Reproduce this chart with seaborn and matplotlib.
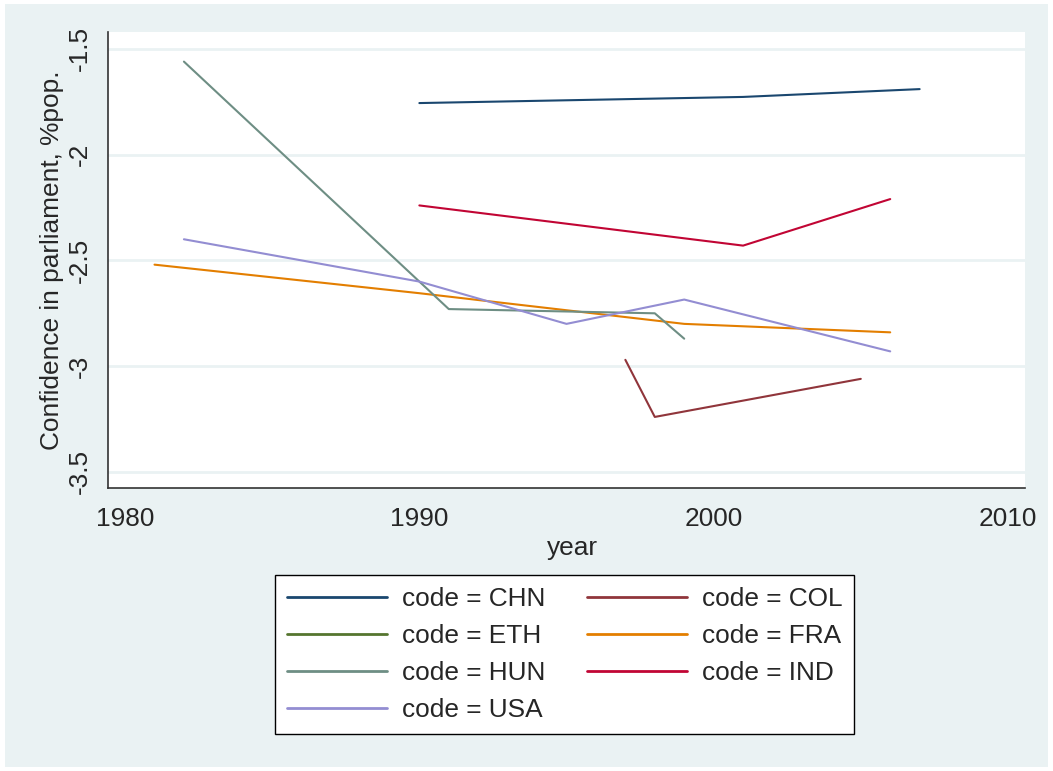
import pandas as pd
import numpy as np
import matplotlib
matplotlib.use("Agg")
import matplotlib.pyplot as plt
from matplotlib.lines import Line2D
from matplotlib.patches import Rectangle
import seaborn as sns

# values
chn_year = [1990, 2001, 2007]
chn_conf = [-1.756, -1.727, -1.69]
col_year = [1997, 1998, 2005]
col_conf = [-2.97, -3.24, -3.06]
eth_year = []
eth_conf = []
fra_year = [1981, 1990, 1999, 2006]
fra_conf = [-2.52, -2.655, -2.80, -2.84]
hun_year = [1982, 1991, 1998, 1999]
hun_conf = [-1.56, -2.73, -2.75, -2.87]
ind_year = [1990, 2001, 2006]
ind_conf = [-2.24, -2.43, -2.21]
usa_year = [1982, 1990, 1995, 1999, 2006]
usa_conf = [-2.40, -2.60, -2.80, -2.685, -2.93]

codes = ["CHN", "COL", "ETH", "FRA", "HUN", "IND", "USA"]
colors = ["#1a476f", "#90353b", "#55752f", "#e37e00", "#6e8e84", "#c10534", "#938dd2"]

years = [chn_year, col_year, eth_year, fra_year, hun_year, ind_year, usa_year]
confs = [chn_conf, col_conf, eth_conf, fra_conf, hun_conf, ind_conf, usa_conf]
frames = []
for c, yr, cf in zip(codes, years, confs):
    frames.append(pd.DataFrame({"code": c, "year": yr, "conf": cf}))
df = pd.concat(frames, ignore_index=True)
df["year"] = df["year"].astype(float)
df["conf"] = df["conf"].astype(float)

palette = dict(zip(codes, colors))
bg = "#eaf2f3"

sns.set_style("white")
plt.rcParams["font.family"] = ["Liberation Sans", "DejaVu Sans"]

fig = plt.figure(figsize=(10.53, 7.71), dpi=100)
fig.patch.set_facecolor("white")
fig.patches.append(Rectangle((5 / 1053, 4 / 771), 1043 / 1053, 763 / 771,
                             transform=fig.transFigure, facecolor=bg,
                             edgecolor="none", zorder=-10))
ax = fig.add_axes([108 / 1053, 1 - 488 / 771, 917 / 1053, 456 / 771])
ax.set_facecolor("white")

sns.lineplot(data=df, x="year", y="conf", hue="code", palette=palette,
             linewidth=1.5, legend=False, ax=ax, estimator=None, sort=False)

ax.set_xlim(1979.42, 2010.58)
ax.set_ylim(-3.576, -1.42)
ax.set_xticks([1980, 1990, 2000, 2010])
ax.set_yticks([-1.5, -2, -2.5, -3, -3.5])
ax.set_yticklabels(["-1.5", "-2", "-2.5", "-3", "-3.5"], rotation=90, va="center")
ax.yaxis.grid(True, color=bg, linewidth=2)
ax.xaxis.grid(False)
ax.set_axisbelow(True)

for s in ["top", "right"]:
    ax.spines[s].set_visible(False)
for s in ["left", "bottom"]:
    ax.spines[s].set_color("#333333")
    ax.spines[s].set_linewidth(1.2)

ax.tick_params(axis="both", direction="out", length=8.5, width=1.2,
               color="#333333", labelsize=18.9, pad=5)
ax.tick_params(axis="y", pad=3)
ax.set_xlabel("year", fontsize=18.9)
ax.xaxis.set_label_coords(0.506, -0.105)
ax.set_ylabel("Confidence in parliament, %pop.", fontsize=18.9, labelpad=3)

order = ["CHN", "ETH", "HUN", "USA", "COL", "FRA", "IND"]
handles = [Line2D([0], [0], color=palette[c], linewidth=2) for c in order]
labels = ["code = " + c for c in order]
leg = fig.legend(handles, labels, ncol=2, loc="upper center",
                 bbox_to_anchor=(564.5 / 1053, 1 - 575 / 771), fontsize=18.9,
                 frameon=True, fancybox=False, edgecolor="black", framealpha=1,
                 handlelength=3.8, handletextpad=0.57, columnspacing=1.6,
                 labelspacing=0.5, borderpad=0.45, borderaxespad=0)
leg.get_frame().set_linewidth(1)
leg.get_frame().set_facecolor("white")

fig.savefig("out.png", dpi=100)
